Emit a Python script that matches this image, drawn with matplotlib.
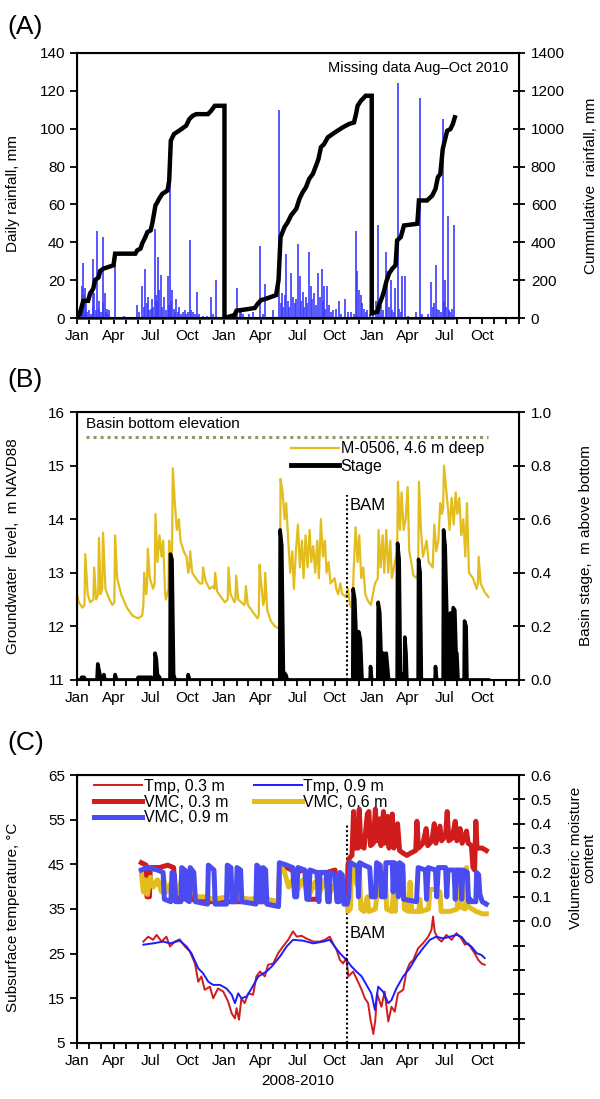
# -*- coding: utf-8 -*-
"""
Rainfall, groundwater / basin stage and subsurface temperature / moisture, 2008-2010
"""
import numpy as np
import pandas as pd
import matplotlib
matplotlib.use('Agg')
import matplotlib.pyplot as plt
import matplotlib.dates as mdates
from matplotlib.lines import Line2D
from matplotlib.ticker import MultipleLocator, FixedLocator, FuncFormatter

plt.rcParams['font.family'] = ['Liberation Sans', 'DejaVu Sans']

START = pd.Timestamp('2008-01-01')
END = pd.Timestamp('2011-01-01')
BAM_DATE = pd.Timestamp('2009-11-01')

# ---------------------- DATA ---------------------- #
# (A) daily rainfall, day of year -> mm
rain08_day = [12, 14, 16, 18, 20, 22, 26, 30, 35, 39, 41, 43, 47, 51, 54, 56, 60, 64, 66, 69,
              72, 74, 78, 81, 95, 116, 148, 155, 162, 166, 170, 173, 176, 180, 184, 187, 190, 193, 196, 199,
              201, 204, 208, 211, 215, 220, 225, 228, 231, 234, 237, 240, 243, 246, 250, 254, 258, 262, 267, 270,
              275, 281, 284, 287, 292, 298, 303, 312, 322, 333, 338, 345]
rain08_mm = [17, 10, 29, 12, 16, 8, 3, 4, 2, 31, 6, 13, 4, 46, 5, 9, 3, 43, 8, 13,
             3, 5, 2, 4, 28, 1, 7, 3, 17, 6, 26, 8, 11, 4, 5, 10, 6, 47, 12, 9,
             32, 15, 23, 6, 11, 4, 22, 7, 72, 9, 15, 5, 3, 10, 3, 6, 2, 3, 4, 2,
             3, 41, 4, 3, 2, 14, 2, 1, 1, 11, 2, 20]
rain09_day = [10, 20, 25, 32, 38, 42, 46, 60, 70, 87, 95, 101, 120, 136, 140, 142, 145, 150, 153, 157,
              160, 165, 169, 175, 178, 182, 187, 190, 194, 198, 202, 205, 209, 214, 218, 223, 226, 231, 237, 242,
              245, 247, 250, 254, 260, 265, 270, 276, 284, 290, 298, 305, 313, 320, 325, 329, 334, 338, 342, 345,
              350, 354, 360]
rain09_mm = [1, 2, 3, 16, 3, 4, 2, 2, 3, 38, 2, 18, 4, 110, 8, 13, 6, 12, 34, 9,
             6, 24, 11, 8, 10, 39, 22, 9, 14, 6, 11, 8, 35, 17, 10, 13, 7, 24, 11, 26,
             9, 17, 5, 17, 7, 3, 4, 5, 9, 2, 10, 3, 3, 2, 46, 25, 15, 12, 8, 5,
             3, 4, 2]
rain10_day = [2, 10, 16, 19, 22, 28, 35, 39, 43, 47, 51, 55, 58, 65, 68, 72, 76, 82, 90, 109,
              119, 125, 140, 148, 151, 154, 159, 163, 166, 172, 176, 179, 181, 185, 188, 192, 195, 199, 205]
rain10_mm = [2, 9, 49, 5, 7, 4, 35, 25, 6, 20, 4, 3, 16, 124, 5, 3, 22, 22, 1, 3,
             116, 2, 2, 19, 6, 8, 28, 5, 4, 3, 105, 9, 20, 6, 54, 4, 3, 5, 49]

# (A) cumulative rainfall, day of year -> mm
cum08_day = [0, 7, 16, 28, 33, 41, 45, 54, 58, 66, 79, 91, 95, 145, 150, 158, 162, 170, 175, 183,
             187, 195, 200, 204, 212, 225, 229, 233, 241, 254, 271, 279, 287, 296, 325, 333, 342, 366]
cum08_mm = [0, 20, 91, 91, 130, 156, 200, 215, 249, 261, 270, 279, 340, 340, 358, 367, 393, 428, 454, 463,
            498, 595, 613, 630, 656, 674, 726, 937, 972, 990, 1016, 1051, 1068, 1077, 1077, 1095, 1121, 1121]
cum09_day = [0, 25, 30, 54, 75, 83, 91, 100, 128, 134, 139, 149, 157, 165, 178, 186, 194, 202, 210, 219,
             227, 233, 239, 247, 256, 268, 280, 293, 309, 321, 326, 330, 338, 350, 365]
cum09_mm = [0, 16, 39, 46, 53, 77, 95, 100, 121, 200, 428, 481, 507, 542, 577, 630, 665, 691, 735, 761,
            805, 840, 902, 919, 954, 972, 989, 1007, 1025, 1033, 1077, 1121, 1147, 1174, 1174]
cum10_day = [0, 14, 18, 26, 30, 36, 43, 51, 59, 63, 72, 80, 113, 117, 137, 150, 158, 164, 170, 176,
             181, 187, 195, 201, 206]
cum10_mm = [25, 33, 68, 112, 139, 191, 235, 261, 279, 410, 428, 489, 498, 621, 621, 647, 682, 744, 761, 893,
            937, 989, 998, 1025, 1060]

# (B) groundwater level M-0506, days since 2008-01-01 -> m NAVD88
gw_day = [0, 5, 14, 19, 21, 27, 33, 41, 43, 48, 53, 55, 59, 63, 65, 71, 81, 88, 93, 95,
          100, 110, 124, 138, 152, 162, 165, 167, 172, 174, 176, 181, 189, 193, 195, 200, 205, 210, 214, 219,
          221, 227, 229, 233, 236, 238, 243, 248, 253, 257, 265, 272, 276, 279, 281, 286, 295, 305, 311, 313,
          319, 329, 338, 341, 343, 348, 357, 367, 374, 376, 381, 391, 393, 395, 400, 415, 417, 419, 424, 438,
          448, 451, 453, 457, 462, 465, 467, 472, 481, 491, 503, 505, 510, 515, 519, 524, 529, 534, 538, 543,
          548, 553, 558, 562, 567, 572, 577, 581, 586, 591, 596, 600, 605, 610, 615, 619, 624, 629, 639, 643,
          648, 653, 658, 667, 672, 677, 681, 684, 686, 691, 696, 700, 705, 710, 715, 720, 724, 729, 734, 739,
          746, 748, 753, 758, 762, 767, 772, 777, 781, 791, 794, 796, 801, 805, 810, 815, 820, 824, 829, 834,
          843, 846, 848, 853, 858, 867, 872, 882, 886, 891, 896, 901, 905, 908, 910, 915, 920, 924, 929, 934,
          939, 943, 948, 953, 958, 963, 967, 972, 982, 991, 994, 996, 1001, 1010, 1020]
gw_level = [12.6, 12.45, 12.35, 12.4, 13.35, 12.6, 12.45, 12.5, 13.1, 12.5, 12.6, 13.65, 12.6, 12.7, 13.75, 12.7, 12.5, 12.4, 12.45, 13.7,
            12.9, 12.6, 12.35, 12.2, 12.15, 12.2, 12.4, 13.0, 12.6, 12.8, 13.45, 12.9, 12.7, 12.8, 14.1, 13.2, 13.7, 13.3, 13.6, 12.6,
            12.5, 12.7, 13.6, 13.2, 13.4, 14.95, 14.3, 13.8, 14.0, 13.6, 13.4, 13.3, 13.0, 13.1, 13.4, 13.0, 12.9, 12.8, 12.8, 13.1,
            12.85, 12.7, 12.75, 12.7, 13.0, 12.65, 12.55, 12.45, 12.5, 13.1, 12.6, 12.45, 12.5, 12.95, 12.5, 12.4, 12.45, 12.75, 12.4, 12.25,
            12.15, 12.2, 13.15, 12.8, 12.4, 12.5, 13.0, 12.3, 12.1, 12.0, 11.95, 14.75, 14.5, 14.0, 14.3, 13.6, 13.0, 13.4, 12.7, 13.4,
            13.9, 13.1, 13.6, 12.9, 13.7, 13.1, 13.8, 13.2, 13.5, 13.0, 13.6, 12.9, 14.0, 13.3, 13.6, 13.0, 13.2, 12.8, 12.9, 12.7,
            12.6, 12.8, 12.6, 12.55, 12.7, 12.4, 12.35, 12.5, 13.0, 13.85, 13.2, 13.7, 12.9, 13.1, 12.6, 12.5, 12.45, 12.4, 12.6, 12.8,
            12.9, 13.8, 13.1, 13.7, 13.0, 13.8, 13.0, 13.6, 12.9, 13.3, 13.4, 14.7, 13.8, 14.5, 13.8, 14.0, 14.6, 13.4, 13.2, 12.95,
            12.9, 13.0, 14.7, 13.8, 13.3, 13.6, 13.2, 13.1, 13.9, 13.4, 13.6, 14.3, 14.1, 14.2, 15.0, 14.6, 14.2, 13.8, 14.4, 13.9,
            14.5, 14.1, 14.4, 13.7, 14.0, 13.3, 14.3, 13.0, 12.9, 12.7, 12.8, 13.3, 12.8, 12.65, 12.55]

# (B) basin stage, days since 2008-01-01 -> m above bottom
stage_day = [0, 10, 12, 18, 22, 50, 52, 56, 60, 66, 67, 70, 93, 95, 99, 150, 152, 185, 193, 194,
             197, 200, 205, 208, 231, 232, 236, 240, 244, 275, 276, 280, 503, 504, 508, 512, 518, 522, 684, 685,
             689, 694, 699, 703, 707, 727, 728, 731, 746, 747, 751, 755, 757, 760, 764, 767, 770, 773, 794, 795,
             799, 802, 805, 808, 812, 813, 816, 818, 846, 847, 851, 854, 888, 889, 892, 908, 909, 913, 917, 920,
             922, 926, 930, 933, 937, 940, 942, 945, 960, 961, 965, 967, 1020]
stage_m = [0, 0, 0.01, 0.01, 0, 0, 0.06, 0.03, 0, 0, 0.02, 0, 0, 0.02, 0, 0, 0.01, 0.01, 0, 0.1,
           0.08, 0.02, 0.01, 0, 0, 0.47, 0.45, 0.02, 0, 0, 0.02, 0, 0, 0.56, 0.5, 0.03, 0.02, 0, 0, 0.34,
           0.3, 0.1, 0.18, 0.15, 0, 0, 0.05, 0, 0, 0.29, 0.25, 0.05, 0.09, 0.1, 0.09, 0.1, 0.05, 0, 0, 0.51,
           0.45, 0.03, 0.02, 0, 0, 0.16, 0.1, 0, 0, 0.45, 0.4, 0, 0, 0.05, 0, 0, 0.56, 0.5, 0.25, 0.24,
           0.05, 0.25, 0.2, 0.27, 0.26, 0.1, 0.1, 0, 0, 0.22, 0.2, 0, 0]
BASIN_BOTTOM = 15.53
basin_span = ['2008-01-25', '2010-10-16']

# (C) subsurface temperature, days since 2008-01-01 -> deg C
tmp03_day = [165, 177, 189, 198, 210, 222, 231, 243, 255, 268, 280, 293, 301, 309, 317, 330, 338, 350, 363, 375,
             384, 392, 396, 402, 408, 416, 425, 437, 445, 454, 466, 474, 487, 499, 511, 524, 536, 545, 557, 569,
             586, 602, 615, 627, 635, 644, 652, 660, 668, 673, 685, 697, 706, 714, 722, 728, 735, 740, 744, 755,
             763, 772, 780, 788, 796, 809, 817, 825, 834, 846, 858, 871, 879, 883, 887, 895, 904, 916, 929, 941,
             953, 962, 970, 978, 986, 995, 1003, 1011]
tmp03_c = [27.7, 28.8, 28.1, 29.2, 27.7, 28.8, 26.6, 27.7, 28.2, 26.6, 25.5, 22.8, 18.7, 19.9, 16.9, 17.6, 15.0, 17.2, 16.5, 14.3,
           11.6, 10.5, 12.8, 10.2, 15.0, 13.9, 16.1, 15.8, 19.9, 21.0, 19.9, 22.5, 22.8, 25.1, 26.6, 28.1, 30.0, 28.8, 29.0, 28.4,
           27.7, 27.7, 28.1, 28.8, 27.3, 25.8, 23.6, 22.8, 24.0, 19.9, 21.0, 18.7, 16.9, 15.0, 13.9, 10.2, 7.0, 10.2, 16.1, 13.1,
           16.5, 9.8, 13.1, 12.0, 16.1, 16.9, 21.0, 22.8, 23.6, 26.2, 27.3, 28.8, 30.3, 33.3, 29.9, 28.4, 27.7, 29.2, 28.1, 29.6,
           28.4, 27.0, 27.3, 26.2, 25.1, 23.6, 22.8, 22.5]
tmp09_day = [165, 189, 214, 231, 255, 272, 284, 301, 313, 326, 338, 355, 371, 384, 392, 400, 408, 421, 433, 450,
             470, 483, 503, 520, 536, 561, 586, 611, 627, 639, 652, 668, 681, 693, 706, 718, 730, 739, 747, 759,
             772, 780, 792, 809, 825, 842, 858, 875, 891, 908, 925, 941, 953, 966, 978, 991, 1003, 1011]
tmp09_c = [27.0, 27.3, 27.7, 27.3, 27.9, 26.6, 25.1, 21.7, 20.6, 18.7, 18.0, 18.0, 17.2, 15.8, 13.9, 16.1, 15.0, 15.4, 17.2, 19.9,
           21.0, 22.1, 24.3, 26.6, 28.1, 27.9, 27.3, 27.7, 28.1, 26.6, 25.1, 23.6, 22.1, 21.0, 19.9, 18.0, 16.1, 12.4, 17.6, 16.5,
           13.9, 14.6, 17.2, 19.9, 21.7, 24.3, 26.2, 28.1, 28.8, 28.4, 28.8, 29.2, 28.8, 27.3, 26.6, 25.1, 24.7, 24.0]

# (C) volumetric moisture content, days since 2008-01-01
vmc03_day = [160, 172, 174, 180, 182, 205, 225, 240, 244, 262, 265, 276, 282, 320, 380, 440, 500, 503, 520, 545,
             560, 572, 575, 597, 600, 620, 640, 645, 665, 670, 672, 676, 682, 686, 690, 697, 700, 704, 712, 720,
             724, 728, 735, 740, 744, 750, 754, 760, 764, 770, 774, 782, 786, 795, 800, 808, 818, 828, 840, 843,
             847, 858, 866, 870, 880, 886, 890, 900, 904, 914, 918, 922, 930, 938, 942, 950, 955, 966, 970, 978,
             982, 986, 989, 992, 1005, 1015]
vmc03 = [0.24, 0.23, 0.10, 0.10, 0.22, 0.22, 0.23, 0.22, 0.10, 0.09, 0.21, 0.20, 0.09, 0.08, 0.08, 0.08, 0.08, 0.23, 0.22, 0.20,
         0.21, 0.20, 0.09, 0.09, 0.20, 0.20, 0.21, 0.09, 0.085, 0.09, 0.23, 0.26, 0.27, 0.45, 0.30, 0.30, 0.46, 0.31, 0.30, 0.44,
         0.45, 0.31, 0.32, 0.46, 0.33, 0.42, 0.31, 0.45, 0.32, 0.43, 0.30, 0.44, 0.30, 0.40, 0.29, 0.28, 0.27, 0.28, 0.29, 0.41,
         0.30, 0.32, 0.38, 0.31, 0.33, 0.40, 0.32, 0.39, 0.33, 0.35, 0.45, 0.33, 0.34, 0.41, 0.33, 0.38, 0.32, 0.37, 0.32, 0.31,
         0.22, 0.21, 0.41, 0.30, 0.30, 0.29]
vmc06_day = [160, 165, 170, 175, 182, 190, 200, 210, 215, 222, 235, 245, 260, 275, 282, 295, 320, 340, 373, 378,
             385, 430, 460, 465, 472, 500, 503, 515, 525, 535, 545, 560, 575, 590, 600, 615, 625, 640, 655, 670,
             672, 678, 681, 688, 694, 700, 704, 712, 720, 724, 740, 750, 758, 764, 768, 780, 786, 789, 795, 803,
             809, 812, 822, 826, 830, 848, 850, 853, 872, 875, 888, 900, 903, 925, 943, 946, 950, 962, 966, 970,
             990, 1005, 1015]
vmc06 = [0.20, 0.12, 0.17, 0.11, 0.18, 0.14, 0.17, 0.12, 0.18, 0.12, 0.16, 0.11, 0.17, 0.11, 0.17, 0.10, 0.10, 0.09, 0.10, 0.17,
         0.10, 0.09, 0.10, 0.16, 0.09, 0.08, 0.23, 0.20, 0.14, 0.17, 0.12, 0.17, 0.10, 0.16, 0.11, 0.17, 0.11, 0.15, 0.10, 0.09,
         0.04, 0.05, 0.24, 0.20, 0.15, 0.22, 0.05, 0.04, 0.10, 0.04, 0.05, 0.21, 0.18, 0.20, 0.05, 0.04, 0.12, 0.04, 0.21, 0.19,
         0.20, 0.05, 0.04, 0.16, 0.04, 0.04, 0.09, 0.04, 0.05, 0.13, 0.13, 0.12, 0.04, 0.04, 0.05, 0.20, 0.06, 0.05, 0.22, 0.06,
         0.04, 0.03, 0.03]
vmc09_day = [160, 175, 200, 214, 217, 233, 236, 242, 245, 258, 260, 267, 270, 279, 281, 290, 294, 324, 326, 340,
             343, 371, 373, 382, 385, 395, 397, 406, 409, 444, 446, 452, 455, 460, 462, 468, 471, 500, 502, 520,
             535, 540, 545, 548, 565, 570, 575, 578, 595, 600, 603, 618, 622, 626, 628, 640, 645, 650, 652, 658,
             662, 670, 674, 677, 690, 696, 698, 701, 712, 726, 730, 740, 743, 752, 755, 764, 766, 782, 784, 787,
             795, 797, 800, 808, 810, 842, 846, 864, 867, 871, 889, 892, 896, 914, 917, 920, 935, 938, 941, 951,
             954, 957, 968, 971, 975, 978, 989, 991, 996, 999, 1005, 1015]
vmc09 = [0.21, 0.22, 0.21, 0.20, 0.09, 0.08, 0.20, 0.19, 0.08, 0.08, 0.22, 0.21, 0.09, 0.08, 0.22, 0.20, 0.08, 0.07, 0.23, 0.21,
         0.07, 0.07, 0.23, 0.22, 0.08, 0.08, 0.22, 0.21, 0.08, 0.07, 0.23, 0.22, 0.08, 0.08, 0.22, 0.21, 0.07, 0.06, 0.24, 0.23,
         0.22, 0.10, 0.10, 0.22, 0.21, 0.09, 0.09, 0.21, 0.20, 0.08, 0.20, 0.20, 0.08, 0.08, 0.20, 0.19, 0.08, 0.08, 0.20, 0.19,
         0.07, 0.07, 0.10, 0.24, 0.23, 0.22, 0.10, 0.24, 0.23, 0.22, 0.10, 0.10, 0.24, 0.23, 0.10, 0.10, 0.24, 0.24, 0.12, 0.24,
         0.23, 0.10, 0.24, 0.23, 0.09, 0.08, 0.22, 0.21, 0.09, 0.22, 0.21, 0.10, 0.22, 0.22, 0.10, 0.21, 0.21, 0.09, 0.21, 0.21,
         0.09, 0.21, 0.20, 0.08, 0.09, 0.08, 0.08, 0.20, 0.19, 0.11, 0.08, 0.07]

# Colours
RAIN_BLUE = '#3b3bff'
GW_YELLOW = '#e3bd1e'
RED = '#d01c1c'
VMC_BLUE = '#4a4cf2'
TMP_BLUE = '#1c1cff'
OLIVE = '#8d9a6a'
FS = 11


def days_to_dates(days, start=START):
    return start + pd.to_timedelta(np.asarray(days, dtype=float), unit='D')


def style_time_axis(ax):
    ax.set_xlim(START, END)
    ax.xaxis.set_major_locator(mdates.MonthLocator())

    def fmt(x, pos):
        d = mdates.num2date(x)
        if d.month in (1, 4, 7, 10) and d.year < 2011:
            return d.strftime('%b')
        return ''
    ax.xaxis.set_major_formatter(FuncFormatter(fmt))
    ax.tick_params(axis='x', direction='out', length=4, width=1.3, labelsize=FS, pad=4)
    ax.tick_params(axis='y', direction='out', length=5, width=1.3, labelsize=FS)
    for s in ax.spines.values():
        s.set_linewidth(1.5)


def style_right(ax):
    ax.tick_params(axis='y', direction='inout', length=9, width=1.3, labelsize=FS, pad=4)


fig = plt.figure(figsize=(6.0, 10.99), dpi=100)
LEFT, WIDTH = 0.128, 0.737

# ---------------------- (A) RAINFALL ---------------------- #
axA = fig.add_axes([LEFT, 0.7106, WIDTH, 0.2412])
axA2 = axA.twinx()
rain_dates = np.concatenate([days_to_dates(rain08_day, pd.Timestamp('2008-01-01')),
                             days_to_dates(rain09_day, pd.Timestamp('2009-01-01')),
                             days_to_dates(rain10_day, pd.Timestamp('2010-01-01'))])
rain_mm = np.concatenate([rain08_mm, rain09_mm, rain10_mm])
cum_dates = np.concatenate([days_to_dates(cum08_day, pd.Timestamp('2008-01-01')),
                            days_to_dates(cum09_day, pd.Timestamp('2009-01-01')),
                            days_to_dates(cum10_day, pd.Timestamp('2010-01-01'))])
cum_mm = np.concatenate([cum08_mm, cum09_mm, cum10_mm])

axA.vlines(rain_dates, 0, rain_mm, color=RAIN_BLUE, lw=1.2)
axA.hlines(0, START, cum_dates[-1], color=RAIN_BLUE, lw=2, clip_on=False)
axA2.plot(cum_dates, cum_mm, color='black', lw=3.2, solid_joinstyle='miter')

axA.set_ylim(0, 140)
axA.yaxis.set_major_locator(MultipleLocator(20))
axA2.set_ylim(0, 1400)
axA2.yaxis.set_major_locator(MultipleLocator(200))
style_time_axis(axA)
style_right(axA2)
axA.set_ylabel('Daily rainfall, mm', fontsize=FS)
axA.yaxis.set_label_coords(-0.128, 0.47)
axA2.set_ylabel('Cummulative  rainfall, mm', fontsize=FS)
axA2.yaxis.set_label_coords(1.148, 0.5)
axA.text(0.975, 0.945, 'Missing data Aug\u2013Oct 2010', transform=axA.transAxes,
         ha='right', va='center', fontsize=10.5,
         family=['Liberation Sans Narrow', 'Liberation Sans', 'DejaVu Sans'])
fig.text(0.012, 0.975, '(A)', fontsize=19, va='center')

# ---------------------- (B) GROUNDWATER / STAGE ---------------------- #
axB = fig.add_axes([LEFT, 0.3813, WIDTH, 0.2438])
axB2 = axB.twinx()
gw_dates = days_to_dates(gw_day)
stage_dates = days_to_dates(stage_day)
axB.plot(gw_dates, gw_level, color=GW_YELLOW, lw=1.6)
axB.hlines(BASIN_BOTTOM, pd.Timestamp(basin_span[0]), pd.Timestamp(basin_span[1]),
           color=OLIVE, lw=2.2, linestyles=(0, (1, 1.3)))
axB.vlines(BAM_DATE, 11, 14.45, color='black', lw=1.5, linestyles=(0, (1, 1.2)))
axB.text(BAM_DATE + pd.Timedelta(days=6), 14.25, 'BAM', fontsize=FS + 1, va='center')
axB.text(0.02, 0.955, 'Basin bottom elevation', transform=axB.transAxes, fontsize=FS,
         va='center', family=['Liberation Sans Narrow', 'Liberation Sans', 'DejaVu Sans'])
axB2.fill_between(stage_dates, 0, stage_m, color='black', lw=0)
axB2.plot(stage_dates, stage_m, color='black', lw=2.6)

axB.set_ylim(11, 16)
axB.yaxis.set_major_locator(MultipleLocator(1))
axB2.set_ylim(0, 1.0)
axB2.yaxis.set_major_locator(MultipleLocator(0.2))
axB2.yaxis.set_major_formatter(FuncFormatter(lambda v, p: f'{v:.1f}'))
style_time_axis(axB)
style_right(axB2)
axB.set_ylabel('Groundwater  level,  m NAVD88', fontsize=FS)
axB.yaxis.set_label_coords(-0.128, 0.5)
axB2.set_ylabel('Basin stage,  m above bottom', fontsize=FS)
axB2.yaxis.set_label_coords(1.135, 0.5)
handles_B = [Line2D([], [], color=GW_YELLOW, lw=1.6), Line2D([], [], color='black', lw=3.5)]
axB2.legend(handles_B, ['M-0506, 4.6 m deep', 'Stage'], loc='upper left',
            bbox_to_anchor=(0.47, 0.915), frameon=False, fontsize=FS + 0.5,
            handlelength=3.0, handletextpad=0.1, labelspacing=0.15, borderaxespad=0)
fig.text(0.012, 0.654, '(B)', fontsize=19, va='center')

# ---------------------- (C) TEMPERATURE / MOISTURE ---------------------- #
axC = fig.add_axes([LEFT, 0.051, WIDTH, 0.2438])
axC2 = axC.twinx()
axC.plot(days_to_dates(tmp03_day), tmp03_c, color=RED, lw=1.4)
axC.plot(days_to_dates(tmp09_day), tmp09_c, color=TMP_BLUE, lw=1.4)
axC.vlines(BAM_DATE, 5, 54, color='black', lw=1.5, linestyles=(0, (1, 1.2)))
axC.text(BAM_DATE + pd.Timedelta(days=6), 29.5, 'BAM', fontsize=FS + 1, va='center')

axC2.plot(days_to_dates(vmc03_day), vmc03, color=RED, lw=3.6)
axC2.plot(days_to_dates(vmc06_day), vmc06, color=GW_YELLOW, lw=3.6)
axC2.plot(days_to_dates(vmc09_day), vmc09, color=VMC_BLUE, lw=3.6)

axC.set_ylim(5, 65)
axC.yaxis.set_major_locator(FixedLocator(np.arange(5, 66, 10)))
axC2.set_ylim(-0.5, 0.6)
axC2.yaxis.set_major_locator(MultipleLocator(0.1))
axC2.yaxis.set_major_formatter(FuncFormatter(lambda v, p: f'{max(v, 0):.1f}' if v > -0.05 else ''))
style_time_axis(axC)
style_right(axC2)
axC.set_ylabel('Subsurface temperature, \u00b0C', fontsize=FS)
axC.yaxis.set_label_coords(-0.128, 0.47)
axC2.set_ylabel('Volumeteric moisture\ncontent', fontsize=FS, linespacing=0.95)
axC2.yaxis.set_label_coords(1.112, 0.69)
axC.set_xlabel('2008-2010', fontsize=FS)

handles_C = [Line2D([], [], color=RED, lw=1.4), Line2D([], [], color=RED, lw=3.6),
             Line2D([], [], color=VMC_BLUE, lw=3.6), Line2D([], [], color=TMP_BLUE, lw=1.4),
             Line2D([], [], color=GW_YELLOW, lw=3.6)]
labels_C = ['Tmp, 0.3 m', 'VMC, 0.3 m', 'VMC, 0.9 m', 'Tmp, 0.9 m', 'VMC, 0.6 m']
axC2.legend(handles_C, labels_C, loc='upper left', bbox_to_anchor=(0.025, 1.01), ncol=2,
            frameon=False, fontsize=FS + 0.5, handlelength=3.0, handletextpad=0.1,
            labelspacing=0.05, columnspacing=1.6, borderaxespad=0)
fig.text(0.012, 0.324, '(C)', fontsize=19, va='center')

fig.savefig('out.png', dpi=100)
